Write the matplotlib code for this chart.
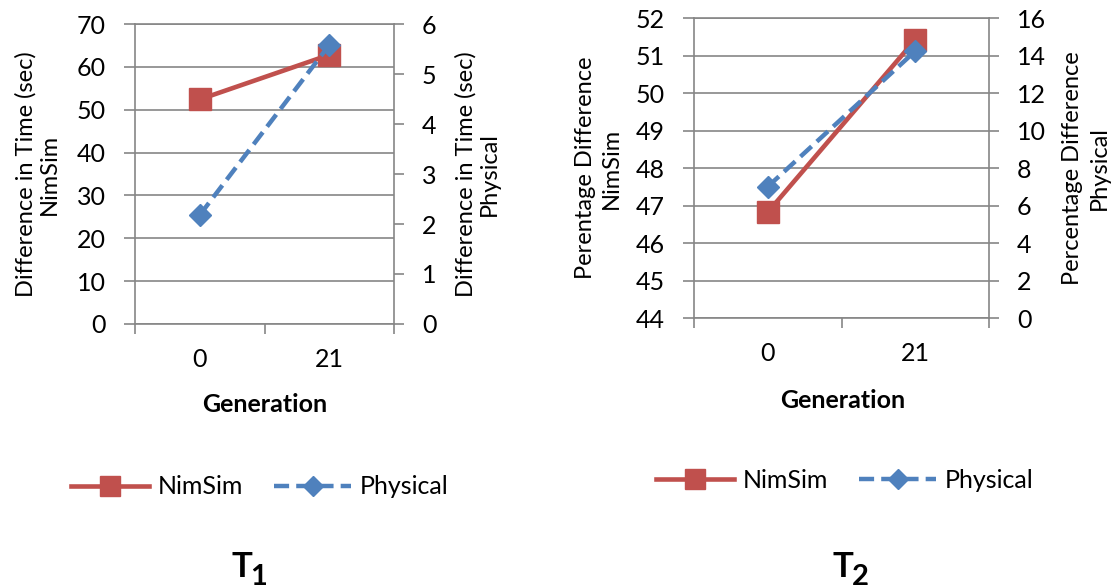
import numpy as np
import matplotlib.pyplot as plt

plt.rcParams['font.family'] = ['Lato', 'DejaVu Sans']

# generation tested and the two measurements for each trial
generations = ['0', '21']
t1_nimsim = [52.4, 62.8]       # difference in time (sec)
t1_physical = [2.18, 5.58]
t2_nimsim = [46.83, 51.43]     # percentage difference
t2_physical = [7.02, 14.25]

red = '#C0504D'
blue = '#4F81BD'
grey = '#868686'

fig = plt.figure(figsize=(11.15, 5.88), dpi=100)


def panel(rect, nimsim, physical, lticks, rticks):
    ax = fig.add_axes(rect)
    ax2 = ax.twinx()
    x = np.arange(len(generations))

    l1, = ax.plot(x, nimsim, color=red, lw=3.3, marker='s', ms=15.5,
                  mec=red, label='NimSim', clip_on=False)
    l2, = ax2.plot(x, physical, color=blue, lw=3.2, ls=(0, (3.4, 1.6)),
                   marker='D', ms=11, mec=blue, label='Physical', clip_on=False)

    ax.set_ylim(lticks[0], lticks[-1])
    ax.set_yticks(lticks)
    ax2.set_ylim(rticks[0], rticks[-1])
    ax2.set_yticks(rticks)

    # category axis: boundary ticks, labels between them
    ax.set_xlim(-0.5, len(generations) - 0.5)
    ax.set_xticks(np.arange(len(generations) + 1) - 0.5)
    ax.set_xticklabels([])
    ax.set_xticks(x, minor=True)
    ax.set_xticklabels(generations, minor=True)
    ax.tick_params(axis='x', which='major', length=7, width=1.2, color=grey)
    ax.tick_params(axis='x', which='minor', length=0, pad=17, labelsize=18)

    ax.tick_params(axis='y', length=8, width=1.2, color=grey, pad=13, labelsize=18)
    ax2.tick_params(axis='y', length=7, width=1.2, color=grey, pad=13, labelsize=18)

    ax.yaxis.grid(True, color=grey, lw=1.2)
    ax.set_axisbelow(True)

    for s in ['left', 'bottom', 'top']:
        ax.spines[s].set_color(grey)
        ax.spines[s].set_linewidth(1.2)
        ax2.spines[s].set_visible(False)
    ax.spines['right'].set_visible(False)
    ax2.spines['right'].set_color(grey)
    ax2.spines['right'].set_linewidth(1.2)
    return ax, [l1, l2]


ax_a, h_a = panel([135 / 1115, 1 - 324 / 588, 259 / 1115, 300 / 588],
                  t1_nimsim, t1_physical, list(range(0, 71, 10)), list(range(0, 7)))
ax_b, h_b = panel([694 / 1115, 1 - 318.3 / 588, 295 / 1115, 300 / 588],
                  t2_nimsim, t2_physical, list(range(44, 53)), list(range(0, 17, 2)))


def fx(px):
    return px / 1115


def fy(py):
    return 1 - py / 588


label_kw = dict(rotation=90, ha='center', va='center', fontsize=17, multialignment='center')
fig.text(fx(37.5), fy(174), 'Difference in Time (sec)\nNimSim', linespacing=1.1, **label_kw)
fig.text(fx(477.5), fy(174), 'Difference in Time (sec)\nPhysical', linespacing=1.15, **label_kw)
fig.text(fx(598.5), fy(168), 'Perentage Difference\nNimSim', linespacing=1.3, **label_kw)
fig.text(fx(1086), fy(168), 'Percentage Difference\nPhysical', linespacing=1.3, **label_kw)

fig.text(fx(265), fy(405), 'Generation', ha='center', va='center', fontsize=18, fontweight='bold')
fig.text(fx(843), fy(400), 'Generation', ha='center', va='center', fontsize=18, fontweight='bold')

for ax, handles, cx, cy in [(ax_a, h_a, 260, 487), (ax_b, h_b, 845, 480)]:
    ax.legend(handles=handles, loc='center', bbox_to_anchor=(fx(cx), fy(cy)),
              bbox_transform=fig.transFigure, ncol=2, frameon=False, fontsize=18,
              handlelength=3.1, handletextpad=0.35, columnspacing=1.25,
              borderpad=0, numpoints=1, markerscale=0.9)

# trial titles with subscripts
for tx, sx, sub in [(242, 259, '1'), (842.5, 860, '2')]:
    fig.text(fx(tx), fy(577), 'T', ha='center', va='baseline', fontsize=25, fontweight='bold')
    fig.text(fx(sx), fy(585), sub, ha='center', va='baseline', fontsize=21, fontweight='bold')

fig.savefig('out.png', dpi=100)
